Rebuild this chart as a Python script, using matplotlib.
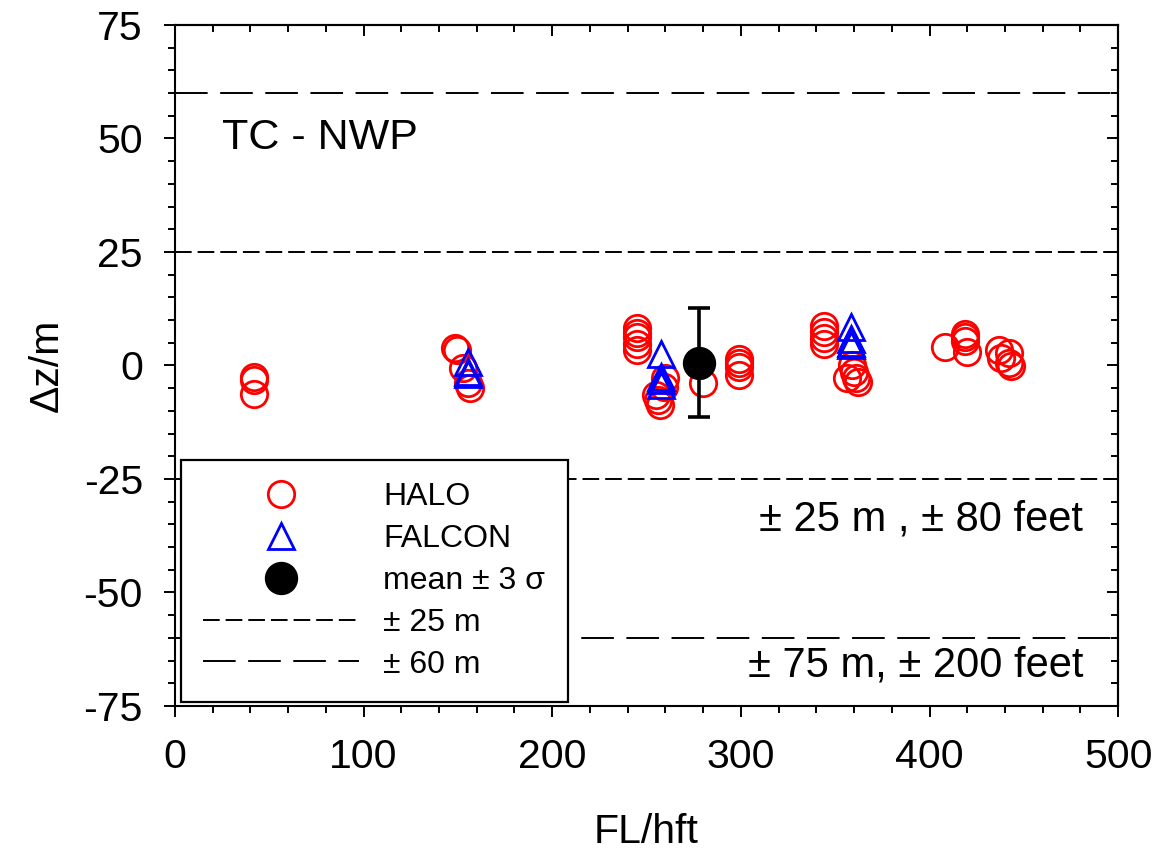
import numpy as np
import matplotlib
matplotlib.use('Agg')
import matplotlib.pyplot as plt
from matplotlib.ticker import MultipleLocator
from matplotlib.lines import Line2D

# HALO flight segments: flight level (hft) and height difference (m)
halo_fl = [42, 42, 42,
           148.5, 149.3, 152.8, 155.5, 156.4,
           245, 245, 245, 245, 245,
           255, 256, 257, 259, 260, 280,
           299, 299, 299, 299,
           344, 344, 344, 344,
           356, 359, 360, 361, 362,
           408, 419, 419, 419, 420,
           437, 438, 442, 442, 443]
halo_dz = [-2.5, -3.3, -6.2,
           3.8, 3.4, -0.6, -3.9, -5.0,
           8.2, 7.2, 6.2, 4.8, 3.5,
           -6.5, -7.6, -8.6, -4.7, -2.8, -3.8,
           1.5, 0.5, -0.4, -2.0,
           8.8, 7.4, 6.0, 4.8,
           -2.8, 0.0, -1.4, -2.8, -3.6,
           4.0, 7.0, 6.2, 5.4, 3.0,
           3.4, 1.6, 2.7, 0.5, -0.2]

# FALCON flight segments
falcon_fl = [155.5, 155.5, 155.5,
             257.5, 257.5, 257.5, 257.5,
             358.2, 358.2, 358.2, 358.2]
falcon_dz = [0.8, -1.5, -1.9,
             2.6, -2.5, -3.3, -4.2,
             8.4, 5.8, 5.0, 4.4]

# overall mean and 3 sigma
mean_fl = 278
mean_dz = 0.6
three_sigma = 12.0

# tolerance bands (m)
band_small = 25
band_large = 60

plt.rcParams['font.family'] = ['Liberation Sans', 'DejaVu Sans']
plt.rcParams['lines.scale_dashes'] = False
plt.rcParams['axes.unicode_minus'] = False

fig = plt.figure(figsize=(11.66, 8.52), dpi=100)
ax = fig.add_axes([0.150, 0.1714, 0.809, 0.7993])

short_dash = (0, (12, 4.3))
long_dash = (0, (23.5, 9))

for s in (1, -1):
    ax.axhline(s * band_small, color='black', lw=1.4, ls=short_dash, zorder=1)
    ax.axhline(s * band_large, color='black', lw=1.4, ls=long_dash, zorder=1)

ax.plot(halo_fl, halo_dz, 'o', ms=19, mfc='none', mec='#ff0000', mew=2, zorder=3)
ax.plot(falcon_fl, falcon_dz, '^', ms=19, mfc='none', mec='#0000ff', mew=2, zorder=4)
ax.errorbar(mean_fl, mean_dz, yerr=three_sigma, fmt='o', ms=23, color='black',
            elinewidth=2.6, capsize=8, capthick=2.6, zorder=5)

ax.set_xlim(0, 500)
ax.set_ylim(-75, 75)
ax.xaxis.set_major_locator(MultipleLocator(100))
ax.xaxis.set_minor_locator(MultipleLocator(20))
ax.yaxis.set_major_locator(MultipleLocator(25))
ax.yaxis.set_minor_locator(MultipleLocator(5))
ax.tick_params(which='both', direction='out', width=1.4, labelsize=29.5, pad=15,
               top=False, right=False)
ax.tick_params(which='major', length=8)
ax.tick_params(which='minor', length=5)
for sp in ax.spines.values():
    sp.set_linewidth(1.5)

# inward ticks on the top and right frame
top = ax.secondary_xaxis('top')
top.xaxis.set_major_locator(MultipleLocator(100))
top.xaxis.set_minor_locator(MultipleLocator(20))
top.tick_params(which='both', direction='in', width=1.4, labeltop=False)
top.tick_params(which='major', length=8)
top.tick_params(which='minor', length=5)
top.spines['top'].set_linewidth(1.5)
right = ax.secondary_yaxis('right')
right.yaxis.set_major_locator(MultipleLocator(25))
right.yaxis.set_minor_locator(MultipleLocator(5))
right.tick_params(which='both', direction='in', width=1.4, labelright=False)
right.tick_params(which='major', length=8)
right.tick_params(which='minor', length=5)
right.spines['right'].set_linewidth(1.5)

ax.set_xlabel('FL/hft', fontsize=29.5, labelpad=27)
ax.set_ylabel('\u0394z/m', fontsize=29.5, labelpad=13)

ax.text(25, 50, 'TC - NWP', fontsize=31, va='center', ha='left')
ax.text(481.5, -34, '\u00b1 25 m , \u00b1 80 feet', fontsize=30, va='center', ha='right')
ax.text(481.5, -66, '\u00b1 75 m, \u00b1 200 feet', fontsize=30, va='center', ha='right')

handles = [
    Line2D([], [], ls='none', marker='o', ms=19, mfc='none', mec='#ff0000', mew=2),
    Line2D([], [], ls='none', marker='^', ms=19, mfc='none', mec='#0000ff', mew=2),
    Line2D([], [], ls='none', marker='o', ms=23, color='black'),
    Line2D([], [], color='black', lw=1.4, ls=short_dash),
    Line2D([], [], color='black', lw=1.4, ls=long_dash),
]
labels = ['HALO', 'FALCON', 'mean \u00b1 3 \u03c3', '\u00b1 25 m', '\u00b1 60 m']
leg = ax.legend(handles, labels, loc='lower left', bbox_to_anchor=(0.006, 0.006),
                borderaxespad=0, fontsize=23, handlelength=4.9, handletextpad=0.75,
                labelspacing=0.37, borderpad=0.7, fancybox=False, framealpha=1,
                edgecolor='black')
leg.get_frame().set_linewidth(1.6)
leg.set_zorder(10)

fig.savefig('out.png', dpi=100)
